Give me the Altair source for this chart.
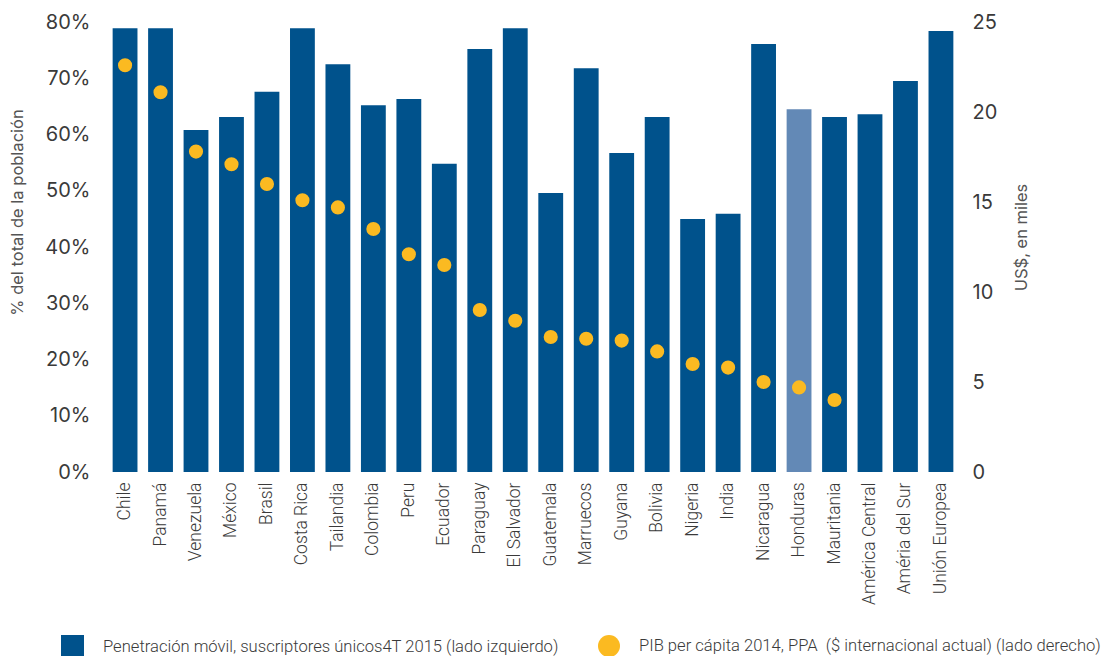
import altair as alt
import pandas as pd

paises = ["Chile", "Panamá", "Venezuela", "México", "Brasil", "Costa Rica", "Tailandia",
          "Colombia", "Peru", "Ecuador", "Paraguay", "El Salvador", "Guatemala", "Marruecos",
          "Guyana", "Bolivia", "Nigeria", "India", "Nicaragua", "Honduras", "Mauritania",
          "América Central", "Améria del Sur", "Unión Europea"]
penetracion = [78.9, 78.9, 60.8, 63.1, 67.6, 78.9, 72.5, 65.2, 66.3, 54.8, 75.2, 78.9,
               49.6, 71.8, 56.7, 63.1, 45.0, 45.9, 76.1, 64.5, 63.1, 63.6, 69.5, 78.4]
pib = [22.6, 21.1, 17.8, 17.1, 16.0, 15.1, 14.7, 13.5, 12.1, 11.5, 9.0, 8.4,
       7.5, 7.4, 7.3, 6.7, 6.0, 5.8, 5.0, 4.7, 4.0, None, None, None]
y_ticks_left = [0, 10, 20, 30, 40, 50, 60, 70, 80]
y_ticks_right = [0, 5, 10, 15, 20, 25]

serie_bar = "Penetración móvil, suscriptores únicos4T 2015 (lado izquierdo)"
serie_pib = "PIB per cápita 2014, PPA \u00a0($ internacional actual) (lado derecho)"
resaltado = "Honduras"

df_bar = pd.DataFrame({"pais": paises, "valor": penetracion, "serie": serie_bar})
df_pib = pd.DataFrame({"pais": paises, "pib": pib, "serie2": serie_pib}).dropna()

AX_FONT = "Inter"
NARROW = "Roboto"
TXT = "#3a3a3a"

x_enc = alt.X(
    "pais:N", sort=paises, title=None,
    scale=alt.Scale(paddingInner=0.3, paddingOuter=0.3),
    axis=alt.Axis(labelAngle=270, labelFont=NARROW, labelFontSize=17.5, labelFontWeight=300,
                  labelColor=TXT, labelPadding=10, ticks=False, domain=False, labelLimit=300),
)

bars = alt.Chart(df_bar).mark_bar().encode(
    x=x_enc,
    y=alt.Y("valor:Q", scale=alt.Scale(domain=[0, 80], nice=False),
            axis=alt.Axis(values=y_ticks_left, labelExpr="datum.value + '%'",
                          title="% del total de la población", titleFont=AX_FONT,
                          titleFontSize=16.5, titleFontWeight="normal", titleColor="#555",
                          titleAngle=270, titleX=-85, titleY=190, titleAlign="center",
                          titleBaseline="middle",
                          labelFont=AX_FONT, labelFontSize=20, labelColor=TXT,
                          labelPadding=12, ticks=False, domain=False, grid=False,
                          labelFlush=False)),
    color=alt.when(alt.datum.pais == resaltado).then(alt.value("#6389B6")).otherwise(
        alt.Color("serie:N", scale=alt.Scale(range=["#00528C"]),
                  legend=alt.Legend(title=None, orient="none", legendX=-41, legendY=613,
                                    symbolType="square", symbolSize=529,
                                    symbolStrokeWidth=0, labelFont=NARROW,
                                    labelFontSize=16.6, labelFontWeight=300, labelColor=TXT,
                                    labelOffset=19, labelLimit=600, padding=0))
    ),
)

dots = alt.Chart(df_pib).mark_circle(size=200, opacity=1).encode(
    x=x_enc,
    y=alt.Y("pib:Q", scale=alt.Scale(domain=[0, 25], nice=False),
            axis=alt.Axis(orient="right", values=y_ticks_right,
                          title="US$, en miles", titleFont=AX_FONT, titleFontSize=16.5,
                          titleFontWeight="normal", titleColor="#555",
                          titleAngle=270, titleX=57, titleY=215, titleAlign="center",
                          titleBaseline="middle",
                          labelFont=AX_FONT, labelFontSize=20, labelColor=TXT,
                          labelPadding=8, ticks=False, domain=False, grid=False,
                          labelFlush=False)),
    color=alt.Color("serie2:N", scale=alt.Scale(range=["#FBBA21"]),
                    legend=alt.Legend(title=None, orient="none", legendX=496, legendY=613,
                                      symbolType="circle", symbolSize=484,
                                      symbolStrokeWidth=0, symbolOpacity=1, labelFont=NARROW,
                                      labelFontSize=16.6, labelFontWeight=300, labelColor=TXT,
                                      labelOffset=19, labelLimit=600, padding=0)),
)

chart = alt.layer(bars, dots).resolve_scale(y="independent", color="independent").properties(
    width=862, height=450,
    autosize=alt.AutoSizeParams(type="none"),
    padding={"left": 94, "top": 14, "right": 141, "bottom": 196},
).configure_view(stroke=None)

chart.save("out.html", embed_options={"renderer": "svg", "actions": False})
